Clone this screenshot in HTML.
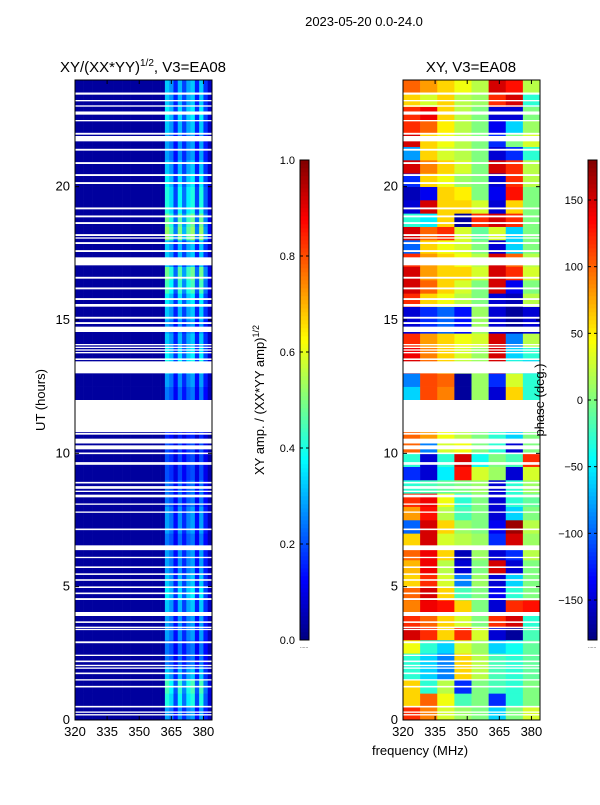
<!DOCTYPE html>
<html><head><meta charset="utf-8"><style>
body{margin:0;background:#fff;width:600px;height:800px;overflow:hidden}
svg text{font-family:"Liberation Sans",sans-serif;fill:#000}
</style></head><body>
<svg id="fig" width="600" height="800" xmlns="http://www.w3.org/2000/svg">
<text x="364" y="26" font-size="13" text-anchor="middle">2023-05-20 0.0-24.0</text>
<text x="143" y="72" font-size="15" text-anchor="middle">XY/(XX*YY)<tspan font-size="10" dy="-6">1/2</tspan><tspan dy="6">, V3=EA08</tspan></text>
<text x="471" y="72" font-size="15" text-anchor="middle">XY, V3=EA08</text>
<text transform="translate(45,400) rotate(-90)" font-size="13" text-anchor="middle">UT (hours)</text>
<text transform="translate(264,400) rotate(-90)" font-size="13" text-anchor="middle">XY amp. / (XX*YY amp)<tspan font-size="9" dy="-5">1/2</tspan></text>
<g id="ampAx"></g>
<g id="phAx"></g>
<g id="cb1"></g>
<g id="cb2"></g>
<text transform="translate(544,400) rotate(-90)" font-size="13" text-anchor="middle">phase (deg.)</text>
<text x="420" y="755" font-size="13" text-anchor="middle">frequency (MHz)</text>
</svg>
<script>
const hourTicks=[0,5,10,15,20];
const freqTicks=[320,335,350,365,380];
const ampTicks=[0.0,0.2,0.4,0.6,0.8,1.0];
const phaseTicks=[-150,-100,-50,0,50,100,150];
const freqBins=[320,322,324,326,328,330,332,334,336,338,340,342,344,346,348,350,352,354,356,358,360,362,364,366,368,370,372,374,376,378,380,382];
const ampProfile=[0.08,0.08,0.08,0.08,0.08,0.08,0.08,0.08,0.08,0.08,0.08,0.08,0.08,0.08,0.08,0.08,0.08,0.08,0.08,0.08,0.08,0.95,0.8,0.45,0.9,0.55,0.85,0.95,0.45,0.95,0.5,0.2];
const ampRow=[0.35,0.5,0.55,0.4,0.3,0.3,0.35,0.35,0.4,0.45,0.4,0.35,0.35,0.3,0.35,0.35,0.3,0.3,0.25,0.25,0.25,0.2,0.2,0.2,0.3,0.35,0.5,0.45,0.4,0.35,0.4,0.45,0.55,0.6,0.4,0.4,0.65,0.6,0.5,0.5,0.45,0.4,0.35,0.35,0.4,0.45,0.4,0.4];
const phaseBins=[320,328,336,344,352,360,368,376];
const phaseGrid=[
[120,90,30,10,0,-60,0,30],[60,100,40,-20,0,-120,-30,0],
[60,-30,20,-120,0,-20,-30,0],[-30,-60,-90,60,20,-20,-30,-10],
[-30,-60,-90,60,20,-20,-30,-10],[40,-30,-60,30,10,-60,-40,-10],
[150,120,60,120,30,-150,-170,-20],[120,100,60,30,0,120,150,-30],
[90,140,130,60,0,-150,120,130],[100,150,60,-20,0,-140,-30,0],
[60,120,30,-90,10,-150,-60,0],[70,140,20,-150,0,150,-150,0],
[100,140,60,-160,10,-150,-120,20],[60,150,30,20,10,-120,150,10],
[-100,150,60,10,0,-140,170,20],[80,130,20,-20,0,-150,-60,0],
[120,140,40,-30,0,-150,-30,-10],[-30,-20,-10,0,10,-150,-30,10],
[-120,-150,-50,130,30,10,-150,30],[-30,-150,-30,150,-40,0,-20,120],
[100,-90,30,40,0,-30,-150,0],[100,80,40,20,0,-30,-60,0],
[0,0,0,0,0,0,0,0],[0,0,0,0,0,0,0,0],
[-60,110,90,-170,10,-150,60,-30],[-90,110,100,-170,10,-120,30,-30],
[150,100,60,20,10,150,-30,-60],[140,90,60,30,10,150,-60,-30],
[120,80,60,40,30,150,-90,20],[-150,-120,-100,-130,10,-150,-170,-150],
[-150,-120,-100,-130,10,-150,-170,-150],[120,60,40,20,0,-150,-160,20],
[150,100,60,30,0,150,-140,0],[150,80,60,60,30,150,120,30],
[120,80,60,40,20,150,100,20],[-100,60,40,30,0,-150,-60,0],
[150,100,120,30,-10,30,-60,0],[-30,-50,60,-170,120,150,120,0],
[-150,150,60,60,30,-150,60,0],[-160,-140,60,50,0,-140,130,0],
[-120,60,40,10,0,-150,120,20],[150,90,60,30,0,150,120,20],
[-80,60,30,20,0,-150,-120,-30],[150,60,40,20,0,-120,0,30],
[120,100,50,20,0,-140,-60,10],[120,140,60,20,0,-150,-150,0],
[60,30,60,20,10,120,150,-30],[100,80,60,40,20,150,130,20]];
const gapStart=[23.45,23.2,23.0,22.7,22.45,21.95,21.7,21.35,20.85,20.4,20.1,19.15,18.85,18.6,18.15,18.05,17.85,17.55,17.05,16.55,16.15,15.75,15.5,15.05,14.85,14.55,14.05,13.95,13.85,13.75,13.5,13.0,10.8,10.7,10.37,10.15,9.97,9.62,9.57,8.87,8.72,8.67,8.55,8.35,8.07,7.77,7.12,6.37,6.07,5.7,5.44,5.22,4.95,4.72,4.5,3.9,3.64,3.45,3.37,2.88,2.4,2.17,2.02,1.92,1.72,1.48,1.22,0.47,0.27,0.17];
const gapEnd=[23.53,23.25,23.05,22.82,22.5,22.02,21.9,21.42,20.92,20.47,20.17,19.22,18.92,18.67,18.22,18.1,17.92,17.62,17.35,16.62,16.22,15.82,15.6,15.12,14.92,14.75,14.1,14.0,13.9,13.8,13.56,13.45,12.0,10.77,10.55,10.3,10.03,9.67,9.62,8.93,8.77,8.72,8.6,8.45,8.12,7.82,7.18,6.55,6.12,5.76,5.5,5.28,5.01,4.78,4.57,4.05,3.7,3.5,3.42,2.95,2.45,2.23,2.07,1.97,1.78,1.53,1.28,0.53,0.32,0.22];

const NS='http://www.w3.org/2000/svg';
const yTop=80,yBot=720;
function yS(h){return yBot-(h/24)*(yBot-yTop);}
function xS(x0,f){return x0+(f-320)*137/64;}
function jet(v){v=Math.max(0,Math.min(1,v));
 const r=Math.max(0,Math.min(1,1.5-Math.abs(4*v-3))),g=Math.max(0,Math.min(1,1.5-Math.abs(4*v-2))),b=Math.max(0,Math.min(1,1.5-Math.abs(4*v-1)));
 return `rgb(${Math.round(r*255)},${Math.round(g*255)},${Math.round(b*255)})`;}
function mk(tag,attrs,parent){const e=document.createElementNS(NS,tag);for(const k in attrs)e.setAttribute(k,attrs[k]);parent.appendChild(e);return e;}
function drawAxes(g,x0){
 const x1=x0+137;
 for(let i=0;i<gapStart.length;i++){
  const r=mk('rect',{x:x0,y:yS(gapEnd[i]),width:137,height:yS(gapStart[i])-yS(gapEnd[i]),fill:'#fff'},g);
  
  
 }
 const fr=mk('rect',{x:x0,y:yTop,width:137,height:yBot-yTop,fill:'none',stroke:'#000','stroke-width':1},g);
 
 
 hourTicks.forEach(h=>{const y=yS(h);
  mk('line',{x1:x0,x2:x0+4,y1:y,y2:y,stroke:'#000'},g);mk('line',{x1:x1,x2:x1-4,y1:y,y2:y,stroke:'#000'},g);
  const t=mk('text',{x:x0-5,y:y+4,'font-size':13,'text-anchor':'end'},g);t.textContent=h;
  
  });
 freqTicks.forEach(f=>{const x=xS(x0,f);
  mk('line',{x1:x,x2:x,y1:yBot,y2:yBot-4,stroke:'#000'},g);mk('line',{x1:x,x2:x,y1:yTop,y2:yTop+4,stroke:'#000'},g);
  const t=mk('text',{x:x,y:yBot+16,'font-size':13,'text-anchor':'middle'},g);t.textContent=f;
  
  });
}
const ampG=document.getElementById('ampAx'),phG=document.getElementById('phAx');
for(let r=0;r<ampRow.length;r++){
 const y0=yS((r+1)*0.5),hh=yS(r*0.5)-y0;
 for(let c=0;c<freqBins.length;c++){
  const f0=freqBins[c],f1=c+1<freqBins.length?freqBins[c+1]:384;
  const v=ampProfile[c]<0.1?0.03:ampProfile[c]*ampRow[r]*0.85;
  const x=xS(75,f0);
  const cell=mk('rect',{x:x,y:y0,width:xS(75,f1)-x+0.3,height:hh+0.3,fill:jet(v)},ampG);
  
  
 }
}
for(let r=0;r<phaseGrid.length;r++){
 const y0=yS((r+1)*0.5),hh=yS(r*0.5)-y0;
 for(let c=0;c<phaseBins.length;c++){
  const f0=phaseBins[c],f1=c+1<phaseBins.length?phaseBins[c+1]:384;
  const x=xS(403,f0);
  const cell=mk('rect',{x:x,y:y0,width:xS(403,f1)-x+0.3,height:hh+0.3,fill:jet((phaseGrid[r][c]+180)/360)},phG);
  
  
 }
}
drawAxes(ampG,75);drawAxes(phG,403);
function drawCb(g,x,ticks,vmin,vmax,fmt){
 for(let i=0;i<120;i++){const v=i/120;
  mk('rect',{x:x,y:640-(i+1)*4,width:9,height:4.3,fill:jet(v+1/240)},g);}
 mk('rect',{x:x,y:160,width:9,height:480,fill:'none',stroke:'#000'},g);
 ticks.forEach(t=>{const y=640-(t-vmin)/(vmax-vmin)*480;
  mk('line',{x1:x,x2:x+3,y1:y,y2:y,stroke:'#000'},g);mk('line',{x1:x+9,x2:x+6,y1:y,y2:y,stroke:'#000'},g);
  const tx=mk('text',{x:x-5,y:y+4,'font-size':11,'text-anchor':'end'},g);
  tx.textContent=fmt(t);
  
  });
 mk('text',{x:x,y:648,'font-size':5},g).textContent='......';
}
drawCb(document.getElementById('cb1'),300,ampTicks,0,1,t=>t.toFixed(1));
drawCb(document.getElementById('cb2'),588,phaseTicks,-180,180,t=>t<0?'\u2212'+(-t):String(t));
</script>
</body></html>
